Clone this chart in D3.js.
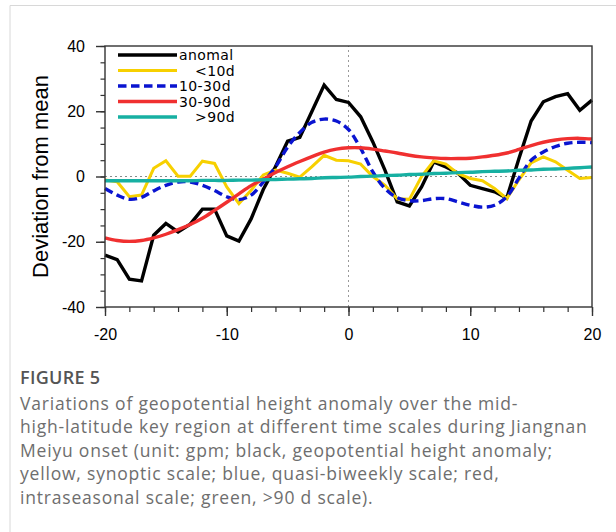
<!DOCTYPE html>
<html>
<head>
<meta charset="utf-8">
<script src="https://cdn.jsdelivr.net/npm/d3@7"></script>
<style>
  body { margin: 0; background: #fff; }
  svg { display: block; }
</style>
</head>
<body>
<div id="chart"></div>
<script>
// days relative to Meiyu onset
const days = d3.range(-20, 21);

// deviation from mean (gpm), one value per day
const anomal = [-24.1, -25.5, -31.5, -32.0, -18.0, -14.4, -17.0, -14.6, -10.0, -10.0,
  -18.2, -19.8, -13.0, -4.0, 3.0, 10.8, 12.0, 20.0, 28.0, 23.6,
  22.7, 18.3, 10.6, 1.9, -7.8, -9.0, -3.2, 4.5, 2.9, 1.0,
  -2.7, -3.7, -4.7, -6.6, 5.5, 17.0, 22.9, 24.5, 25.4, 20.3, 23.4];
const synoptic = [-1.1, -1.6, -6.2, -5.7, 2.5, 4.8, 0.1, 0.1, 4.7, 4.0,
  -3.2, -8.3, -4.2, 0.5, 2.0, 1.0, -0.2, 3.0, 6.5, 5.0,
  4.8, 3.8, 0.0, -2.7, -6.8, -7.0, 0.0, 4.8, 3.8, 0.9,
  -0.6, -1.3, -3.7, -6.8, -1.0, 4.2, 6.0, 4.5, 1.9, -0.6, -0.3];
const biweekly = [-3.7, -5.7, -7.0, -6.4, -4.4, -2.7, -1.7, -1.7, -2.7, -4.3,
  -6.2, -7.1, -5.7, -1.7, 2.9, 9.0, 13.5, 16.6, 17.6, 17.0,
  14.4, 8.6, 1.4, -3.7, -6.5, -7.4, -7.4, -6.8, -6.8, -7.8,
  -8.8, -9.4, -8.8, -6.2, -0.5, 5.0, 7.5, 9.2, 10.2, 10.5, 10.4];
const intraseasonal = [-18.8, -19.6, -19.9, -19.6, -18.8, -17.7, -16.3, -14.7, -12.8, -10.4,
  -7.9, -5.3, -2.8, -0.8, 1.2, 3.0, 4.6, 6.1, 7.5, 8.4,
  8.8, 8.8, 8.4, 7.8, 7.2, 6.5, 6.0, 5.7, 5.5, 5.5,
  5.6, 6.0, 6.5, 7.2, 8.3, 9.5, 10.5, 11.2, 11.6, 11.7, 11.5];
const lowfreq = [-1.3, -1.3, -1.3, -1.3, -1.3, -1.3, -1.3, -1.3, -1.2, -1.2,
  -1.2, -1.1, -1.1, -1.0, -0.9, -0.8, -0.7, -0.6, -0.4, -0.3,
  -0.2, 0.0, 0.1, 0.3, 0.4, 0.6, 0.7, 0.9, 1.0, 1.2,
  1.3, 1.5, 1.6, 1.7, 1.9, 2.0, 2.2, 2.3, 2.5, 2.7, 2.9];

const seriesNames = ["anomal", "<10d", "10-30d", "30-90d", ">90d"];
const xTicks = [-20, -10, 0, 10, 20];
const yTicks = [-40, -20, 0, 20, 40];

const captionTitle = "FIGURE 5";
const captionLines = [
  "Variations of geopotential height anomaly over the mid-",
  "high-latitude key region at different time scales during Jiangnan",
  "Meiyu onset (unit: gpm; black, geopotential height anomaly;",
  "yellow, synoptic scale; blue, quasi-biweekly scale; red,",
  "intraseasonal scale; green, >90 d scale)."
];

const series = [
  { name: seriesNames[0], values: anomal, color: "#000000", dash: null, smooth: false, width: 3.4 },
  { name: seriesNames[1], values: synoptic, color: "#f7d000", dash: null, smooth: false, width: 3 },
  { name: seriesNames[2], values: biweekly, color: "#0a14d0", dash: "8.5,4.5", smooth: true, width: 3.4 },
  { name: seriesNames[3], values: intraseasonal, color: "#f03030", dash: null, smooth: true, width: 3.4 },
  { name: seriesNames[4], values: lowfreq, color: "#17b0a2", dash: null, smooth: true, width: 3.4 }
];

const W = 616, H = 532;
const margin = { top: 46, right: 24, bottom: 225, left: 105 };

const svg = d3.select("#chart").append("svg")
  .attr("width", W)
  .attr("height", H);

// card border
svg.append("path")
  .attr("d", `M10,${H} V5.5 H${W}`)
  .attr("fill", "none")
  .attr("stroke", "#d8d8d8")
  .attr("stroke-width", 1);

const x = d3.scaleLinear().domain([-20, 20]).range([margin.left, W - margin.right]);
const y = d3.scaleLinear().domain([-40, 40]).range([H - margin.bottom, margin.top]);

const axisColor = "#333";

// reference lines
svg.append("line")
  .attr("x1", x(-20)).attr("x2", x(20))
  .attr("y1", y(0)).attr("y2", y(0))
  .attr("stroke", "#8a8a8a").attr("stroke-width", 1.2).attr("stroke-dasharray", "2,3");
svg.append("line")
  .attr("x1", x(0)).attr("x2", x(0))
  .attr("y1", y(-40)).attr("y2", y(40))
  .attr("stroke", "#9a9a9a").attr("stroke-width", 1).attr("stroke-dasharray", "2,3");

const line = d3.line().x((d, i) => x(days[i])).y(d => y(d));

const lines = svg.append("g").attr("fill", "none").attr("stroke-linejoin", "miter");
series.forEach(s => {
  lines.append("path")
    .attr("d", line.curve(s.smooth ? d3.curveCatmullRom : d3.curveLinear)(s.values))
    .attr("stroke", s.color)
    .attr("stroke-width", s.width)
    .attr("stroke-dasharray", s.dash);
});

// axes: minor ticks first, then major with labels
const tickFont = "16px 'Liberation Sans', Arial, sans-serif";
const plain = d => String(d);

svg.append("g")
  .attr("transform", `translate(${margin.left},0)`)
  .call(d3.axisLeft(y).tickValues(d3.range(-40, 41, 5)).tickSize(4.5).tickFormat("").tickSizeOuter(0))
  .call(g => g.select(".domain").remove())
  .call(g => g.selectAll("line").attr("stroke", axisColor).attr("stroke-width", 1.2));

svg.append("g")
  .attr("transform", `translate(0,${H - margin.bottom})`)
  .call(d3.axisBottom(x).tickValues(d3.range(-20, 21, 2)).tickSize(5).tickFormat("").tickSizeOuter(0))
  .call(g => g.select(".domain").remove())
  .call(g => g.selectAll("line").attr("stroke", axisColor).attr("stroke-width", 1.2));

svg.append("g")
  .attr("transform", `translate(${margin.left},0)`)
  .call(d3.axisLeft(y).tickValues(yTicks).tickFormat(plain).tickSize(9).tickPadding(11).tickSizeOuter(0))
  .call(g => g.select(".domain").remove())
  .call(g => g.selectAll("line").attr("stroke", axisColor).attr("stroke-width", 1.4))
  .call(g => g.selectAll("text").style("font", tickFont).attr("fill", "#000"));

svg.append("g")
  .attr("transform", `translate(0,${H - margin.bottom})`)
  .call(d3.axisBottom(x).tickValues(xTicks).tickFormat(plain).tickSize(9).tickPadding(13).tickSizeOuter(0))
  .call(g => g.select(".domain").remove())
  .call(g => g.selectAll("line").attr("stroke", axisColor).attr("stroke-width", 1.4))
  .call(g => g.selectAll("text").style("font", tickFont).attr("fill", "#000"));

// frame
svg.append("rect")
  .attr("x", x(-20)).attr("y", y(40))
  .attr("width", x(20) - x(-20)).attr("height", y(-40) - y(40))
  .attr("fill", "none").attr("stroke", axisColor).attr("stroke-width", 1.4);

// y title
svg.append("text")
  .attr("transform", `translate(48,${(y(40) + y(-40)) / 2}) rotate(-90)`)
  .attr("text-anchor", "middle")
  .style("font", "22px 'Liberation Sans', Arial, sans-serif")
  .text("Deviation from mean");

// legend
const legend = svg.append("g").attr("transform", "translate(118,55)");
const rowH = 15.5;
series.forEach((s, i) => {
  const row = legend.append("g").attr("transform", `translate(0,${i * rowH})`);
  row.append("line")
    .attr("x1", 0).attr("x2", 59)
    .attr("stroke", s.color).attr("stroke-width", s.width)
    .attr("stroke-dasharray", s.dash);
  row.append("text")
    .attr("x", /^[<>]/.test(s.name) ? 77 : 61)
    .attr("y", 5)
    .style("font", "14px 'DejaVu Sans', sans-serif")
    .style("letter-spacing", "0.4px")
    .text(s.name);
});

// caption
const cap = svg.append("g").attr("transform", "translate(20,0)");
cap.append("text")
  .attr("y", 384)
  .attr("fill", "#555")
  .style("font", "600 18px 'Open Sans', sans-serif")
  .style("letter-spacing", "0.3px")
  .text(captionTitle);
cap.selectAll("text.line")
  .data(captionLines)
  .join("text")
  .attr("class", "line")
  .attr("y", (d, i) => 410 + i * 23.4)
  .attr("fill", "#6e6e6e")
  .style("font", "17.5px 'Open Sans', sans-serif")
  .style("letter-spacing", "0.8px")
  .text(d => d);
</script>
</body>
</html>
